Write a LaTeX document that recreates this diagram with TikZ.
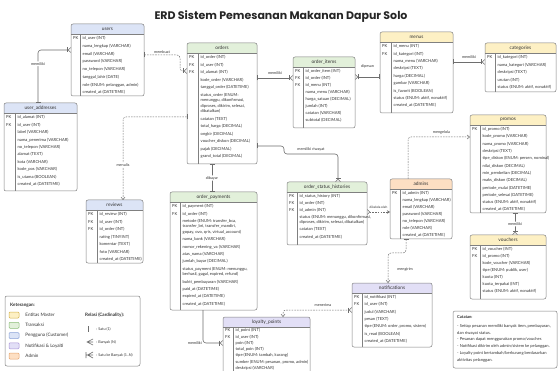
\documentclass[tikz,border=0pt]{standalone}
\usepackage{fontspec}
\setmainfont{Lato}
\newfontfamily\titlefont{Poppins}
\usetikzlibrary{positioning,arrows.meta,calc}

\definecolor{hdrblue}{HTML}{DCE4F6}
\definecolor{hdrgreen}{HTML}{E2F0DA}
\definecolor{hdryellow}{HTML}{FDF0C4}
\definecolor{hdrorange}{HTML}{FDDFC3}
\definecolor{hdrpurple}{HTML}{E2DFF6}
\definecolor{boxgrey}{HTML}{808080}
\definecolor{linegrey}{HTML}{6E6E6E}
\definecolor{inkgrey}{HTML}{333333}

\tikzset{
  entitybox/.style={fill=white, anchor=north west, inner sep=0pt, outer sep=0pt},
  boxline/.style={draw=boxgrey, line width=0.5pt},
  headtext/.style={font=\fontsize{4.8}{5}\selectfont, text=inkgrey},
  fieldtext/.style={font=\fontsize{4.1}{7.4}\selectfont, text=inkgrey, inner sep=0pt, anchor=north west},
  rel/.style={draw=linegrey, line width=0.6pt, rounded corners=3pt},
  weakrel/.style={rel, line width=0.5pt, dash pattern=on 1.6pt off 1.1pt},
  lbl/.style={font=\fontsize{3.8}{4}\selectfont, text=inkgrey, inner sep=1pt},
  legtext/.style={font=\fontsize{4.6}{5}\selectfont, text=inkgrey, inner sep=0pt, anchor=west},
  swatch/.style={minimum width=10pt, minimum height=6pt, inner sep=0pt, rounded corners=1pt, line width=0.5pt},
  erone/.tip={Bar[width=5pt]},
  ermany/.tip={Straight Barb[reversed, length=2.5pt, width=5pt]},
  eropen/.tip={Straight Barb[length=2.5pt, width=4pt]},
  erfill/.tip={Stealth[length=3pt, width=3.5pt]},
}

% name, colour, position, width, height, key column, row pitch, title, fields
\newcommand{\erdtable}[9]{%
  \node[entitybox, minimum width=#4pt, minimum height=#5pt] (#1) at #3 {};
  \fill[#2, rounded corners=2pt] (#1.north west) rectangle ([yshift=-10pt]#1.north east);
  \fill[#2] ([yshift=-5pt]#1.north west) rectangle ([yshift=-10pt]#1.north east);
  \draw[boxline] ([yshift=-10pt]#1.north west) -- ([yshift=-10pt]#1.north east);
  \draw[boxline] ([yshift=-10pt, xshift=#6pt]#1.north west) -- ([xshift=#6pt]#1.south west);
  \draw[boxline, rounded corners=2pt] (#1.north west) rectangle (#1.south east);
  \node[headtext] (#1-title) at ([yshift=-5pt]#1.north) {#8};
  \node[fieldtext] (#1-fields) at ([yshift=-10.3pt]#1.north west) {\fontsize{4.1}{#7}\selectfont
    \begin{tabular}{@{\hspace{2pt}}p{\dimexpr#6pt-2pt\relax}@{\hspace{2.5pt}}l@{}}#9\end{tabular}};
}

\begin{document}
\begin{tikzpicture}[x=1pt, y=-1pt]
  \path[use as bounding box, fill=white] (0,0) rectangle (559,371);

  \node[font=\titlefont\bfseries\fontsize{11}{13}\selectfont, text=black!85] (title) at (281,17)
    {ERD Sistem Pemesanan Makanan Dapur Solo};

  % pengguna
  \erdtable{users}{hdrblue}{(71,24)}{73}{72}{9}{7.7}{users}{
    PK & id\_user (INT)\\
    & nama\_lengkap (VARCHAR)\\
    & email (VARCHAR)\\
    & password (VARCHAR)\\
    & no\_telepon (VARCHAR)\\
    & tanggal\_lahir (DATE)\\
    & role (ENUM: pelanggan, admin)\\
    & created\_at (DATETIME)}
  \erdtable{addresses}{hdrblue}{(4,103)}{73}{88}{11}{7.45}{user\_addresses}{
    PK & id\_alamat (INT)\\
    FK & id\_user (INT)\\
    & label (VARCHAR)\\
    & nama\_penerima (VARCHAR)\\
    & no\_telepon (VARCHAR)\\
    & alamat (TEXT)\\
    & kota (VARCHAR)\\
    & kode\_pos (VARCHAR)\\
    & is\_utama (BOOLEAN)\\
    & created\_at (DATETIME)}
  \erdtable{reviews}{hdrblue}{(86,200)}{57}{63}{11}{7.5}{reviews}{
    PK & id\_review (INT)\\
    FK & id\_user (INT)\\
    FK & id\_order (INT)\\
    & rating (TINYINT)\\
    & komentar (TEXT)\\
    & foto (VARCHAR)\\
    & created\_at (DATETIME)}

  % transaksi
  \erdtable{orders}{hdrgreen}{(187,43)}{70}{121}{11}{7.5}{orders}{
    PK & id\_order (INT)\\
    FK & id\_user (INT)\\
    FK & id\_alamat (INT)\\
    & kode\_order (VARCHAR)\\
    & tanggal\_order (DATETIME)\\
    & status\_order (ENUM:\\[-2pt]
    & menunggu, dikonfirmasi,\\[-2pt]
    & diproses, dikirim, selesai,\\[-2pt]
    & dibatalkan)\\
    & catatan (TEXT)\\
    & total\_harga (DECIMAL)\\
    & ongkir (DECIMAL)\\
    & voucher\_diskon (DECIMAL)\\
    & pajak (DECIMAL)\\
    & grand\_total (DECIMAL)}
  \erdtable{orderitems}{hdrgreen}{(293,57)}{62}{71}{10}{7.0}{order\_items}{
    PK & id\_order\_item (INT)\\
    FK & id\_order (INT)\\
    FK & id\_menu (INT)\\
    & nama\_menu (VARCHAR)\\
    & harga\_satuan (DECIMAL)\\
    & jumlah (INT)\\
    & catatan (VARCHAR)\\
    & subtotal (DECIMAL)}
  \erdtable{payments}{hdrgreen}{(170,192)}{87}{118}{10}{7.4}{order\_payments}{
    PK & id\_payment (INT)\\
    FK & id\_order (INT)\\
    & metode (ENUM: transfer\_bca,\\[-2pt]
    & transfer\_bri, transfer\_mandiri,\\[-2pt]
    & gopay, ovo, qris, virtual\_account)\\
    & nama\_bank (VARCHAR)\\
    & nomor\_rekening\_va (VARCHAR)\\
    & atas\_nama (VARCHAR)\\
    & jumlah\_bayar (DECIMAL)\\
    & status\_payment (ENUM: menunggu,\\[-2pt]
    & berhasil, gagal, expired, refund)\\
    & bukti\_pembayaran (VARCHAR)\\
    & paid\_at (DATETIME)\\
    & expired\_at (DATETIME)\\
    & created\_at (DATETIME)}
  \erdtable{histories}{hdrgreen}{(287,182)}{80}{63}{10}{7.1}{order\_status\_histories}{
    PK & id\_status\_history (INT)\\
    FK & id\_order (INT)\\
    FK & id\_admin (INT)\\
    & status (ENUM: menunggu, dikonfirmasi,\\[-2pt]
    & diproses, dikirim, selesai, dibatalkan)\\
    & catatan (TEXT)\\
    & created\_at (DATETIME)}

  % entitas master
  \erdtable{menus}{hdryellow}{(380,32)}{73}{81}{11}{7.4}{menus}{
    PK & id\_menu (INT)\\
    FK & id\_kategori (INT)\\
    & nama\_menu (VARCHAR)\\
    & deskripsi (TEXT)\\
    & harga (DECIMAL)\\
    & gambar (VARCHAR)\\
    & is\_favorit (BOOLEAN)\\
    & status (ENUM: aktif, nonaktif)\\
    & created\_at (DATETIME)}
  \erdtable{categories}{hdryellow}{(485,43)}{71}{49}{10}{7.5}{categories}{
    PK & id\_kategori (INT)\\
    & nama\_kategori (VARCHAR)\\
    & deskripsi (TEXT)\\
    & urutan (INT)\\
    & status (ENUM: aktif, nonaktif)}
  \erdtable{promos}{hdryellow}{(470,115)}{76}{98}{10}{7.3}{promos}{
    PK & id\_promo (INT)\\
    & kode\_promo (VARCHAR)\\
    & nama\_promo (VARCHAR)\\
    & deskripsi (TEXT)\\
    & tipe\_diskon (ENUM: persen, nominal)\\
    & nilai\_diskon (DECIMAL)\\
    & min\_pembelian (DECIMAL)\\
    & maks\_diskon (DECIMAL)\\
    & periode\_mulai (DATETIME)\\
    & periode\_selesai (DATETIME)\\
    & status (ENUM: aktif, nonaktif)\\
    & created\_at (DATETIME)}
  \erdtable{vouchers}{hdryellow}{(470,235)}{76}{64}{10}{7.0}{vouchers}{
    PK & id\_voucher (INT)\\
    FK & id\_promo (INT)\\
    & kode\_voucher (VARCHAR)\\
    & tipe (ENUM: publik, user)\\
    & kuota (INT)\\
    & kuota\_terpakai (INT)\\
    & status (ENUM: aktif, nonaktif)}

  % admin
  \erdtable{admins}{hdrorange}{(390,179)}{62}{60}{10}{7.0}{admins}{
    PK & id\_admin (INT)\\
    & nama\_lengkap (VARCHAR)\\
    & email (VARCHAR)\\
    & password (VARCHAR)\\
    & no\_telepon (VARCHAR)\\
    & role (VARCHAR)\\
    & created\_at (DATETIME)}

  % notifikasi & loyalti
  \erdtable{notifications}{hdrpurple}{(352,283)}{80}{64}{10}{7.3}{notifications}{
    PK & id\_notifikasi (INT)\\
    FK & id\_user (INT)\\
    & judul (VARCHAR)\\
    & pesan (TEXT)\\
    & tipe (ENUM: order, promo, sistem)\\
    & is\_read (BOOLEAN)\\
    & created\_at (DATETIME)}
  \erdtable{loyalty}{hdrpurple}{(223,317)}{87}{62}{10}{6.25}{loyalty\_points}{
    PK & id\_point (INT)\\
    FK & id\_user (INT)\\
    & poin (INT)\\
    & total\_poin (INT)\\
    & tipe (ENUM: tambah, kurang)\\
    & sumber (ENUM: pesanan, promo, admin)\\
    & deskripsi (VARCHAR)}

  % relasi
  \draw[rel, {ermany[] erone[]}-erone] (users.west |- 0,50) -| node[lbl, fill=white, pos=0.63] {memiliki} (addresses.north -| 38,0);
  \draw[weakrel, erone-{erone[] ermany[]}] (users.east |- 0,55) -- node[lbl, above=0.5pt] {membuat} (180,55) |- (orders.west |- 0,71);
  \draw[weakrel, erone-eropen] (orders.west |- 0,117) -| node[lbl, fill=white, pos=0.79] {menulis} (reviews.north -| 123,0);
  \draw[rel, erone-{erone[] ermany[]}] (orders.east |- 0,78) -- node[lbl, above=2.5pt] {memiliki} (orderitems.west |- 0,78);
  \draw[rel, {ermany[] erone[]}-erone] (orderitems.east |- 0,77) -- node[lbl, above=8pt] {dipesan} (menus.west |- 0,77);
  \draw[rel, erone-{erone[] ermany[]}] (menus.east |- 0,62) -- node[lbl, above=2pt] {memiliki} (categories.west |- 0,62);
  \draw[rel, erone-erone] (orders.south -| 212,0) -- node[lbl, fill=white] {dibayar} (payments.north -| 212,0);
  \draw[rel, erone-{erone[] ermany[]}] (orders.east |- 0,146) -- (284,146) -- (284,154)
    -- node[lbl, above=2pt] {memiliki riwayat} (338,154) -- (histories.north -| 338,0);
  \draw[weakrel, ermany-erfill] (histories.east |- 0,212) -- node[lbl, above=2pt, font=\fontsize{3.2}{4}\selectfont] {dikelola oleh} (admins.west |- 0,212);
  \draw[weakrel, -eropen] (admins.north -| 408,0) |- node[lbl, above=1.5pt, pos=0.77] {mengelola} (promos.west |- 0,137);
  \draw[weakrel, erone-eropen] (admins.south -| 406,0) -- (406,253) -| node[lbl, right=8pt, pos=0.78] {mengirim} (notifications.north -| 388,0);
  \draw[rel, erone-{erone[] ermany[]}] (promos.south -| 515,0) -- node[lbl, fill=white] {memiliki} (vouchers.north -| 515,0);
  \draw[rel, -{erone[] ermany[]}] (payments.south -| 203,0) |- node[lbl, left, pos=0.5] {memiliki} (loyalty.west |- 0,343);
  \draw[weakrel, eropen-{erone[] ermany[]}] (loyalty.north -| 283,0) |- node[lbl, above=2pt, pos=0.79] {menerima} (notifications.west |- 0,310);

  % keterangan
  \node[entitybox, draw=boxgrey, line width=0.5pt, rounded corners=2pt, minimum width=135pt, minimum height=70pt] (legend) at (5,296) {};
  \node[legtext, font=\bfseries\fontsize{4.6}{5}\selectfont] (legend-title) at (10,305) {Keterangan:};
  \foreach \col/\edge/\txt [count=\i] in {hdryellow/D4B24C/Entitas Master, hdrgreen/8DBE7A/Transaksi,
      hdrblue/8CA3D8/Pengguna (Customer), hdrpurple/A995D8/Notifikasi \& Loyalti, hdrorange/E6A46E/Admin} {
    \definecolor{swedge}{HTML}{\edge}
    \node[swatch, fill=\col, draw=swedge] (sw\i) at (14,304.75+10.25*\i) {};
    \node[legtext, right=6pt of sw\i] (swtext\i) {\txt};
  }
  \node[legtext, font=\bfseries\fontsize{4.6}{5}\selectfont] (card-title) at (85,315) {Relasi (Cardinality):};
  \draw[rel] (88,326) -- (88,332);
  \node[legtext, font=\fontsize{3.7}{4}\selectfont] (card-one) at (96,329) {: Satu (1)};
  \draw[rel, rounded corners=0pt] (93,339) -- (87,342) -- (93,345) (87,342) -- (93,342);
  \node[legtext, font=\fontsize{3.7}{4}\selectfont] (card-many) at (96,342) {: Banyak (N)};
  \draw[rel, rounded corners=0pt] (86,352) -- (86,358) (93,352) -- (87.5,355) -- (93,358) (86,355) -- (93,355);
  \node[legtext, font=\fontsize{3.7}{4}\selectfont] (card-onemany) at (96,355) {: Satu ke Banyak (1..N)};

  % catatan
  \node[entitybox, draw=boxgrey, line width=0.5pt, rounded corners=2pt, minimum width=104pt, minimum height=57pt] (notes) at (453,311) {};
  \node[anchor=north west, inner sep=0pt, align=left, text=inkgrey, font=\fontsize{4.1}{6.9}\selectfont] (notes-text) at (457,315.5)
    {\textbf{Catatan:}\\[1.6pt]
     - Setiap pesanan memiliki banyak item, pembayaran,\\
     dan riwayat status.\\
     - Pesanan dapat menggunakan promo/voucher.\\
     - Notifikasi dikirim oleh admin/sistem ke pelanggan.\\
     - Loyalty point bertambah/berkurang berdasarkan\\
     aktivitas pelanggan.};
\end{tikzpicture}
\end{document}
